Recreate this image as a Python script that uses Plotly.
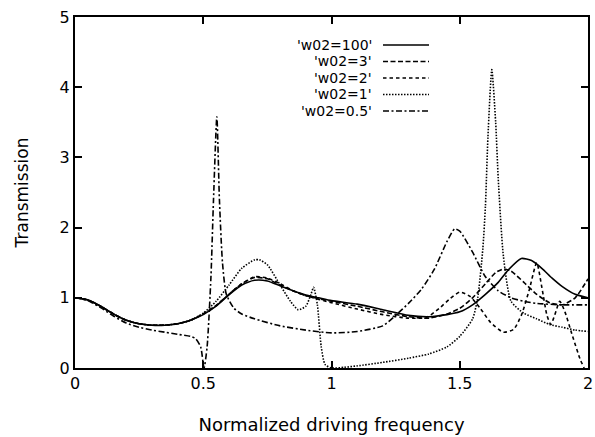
import plotly.graph_objects as go

# ---- data ----
x_w100 = [0, 0.05, 0.1, 0.15, 0.2, 0.25, 0.3, 0.35, 0.4, 0.45, 0.5, 0.55, 0.6, 0.65, 0.7, 0.75, 0.8, 0.85, 0.9, 0.95,
          1.0, 1.1, 1.2, 1.3, 1.38, 1.45, 1.5, 1.55, 1.6, 1.65, 1.69, 1.74, 1.78, 1.82, 1.86, 1.9, 1.95, 2.0]
y_w100 = [1.0, 0.97, 0.88, 0.77, 0.68, 0.63, 0.61, 0.61, 0.63, 0.68, 0.76, 0.88, 1.04, 1.18, 1.25, 1.24, 1.17, 1.10, 1.04, 1.0,
          0.96, 0.91, 0.83, 0.75, 0.73, 0.76, 0.80, 0.90, 1.05, 1.22, 1.40, 1.56, 1.53, 1.42, 1.28, 1.16, 1.05, 1.0]

x_w3 = [0, 0.05, 0.1, 0.15, 0.2, 0.25, 0.3, 0.35, 0.4, 0.45, 0.5, 0.55, 0.6, 0.65, 0.7, 0.75, 0.8, 0.85, 0.9,
        1.0, 1.1, 1.2, 1.3, 1.38, 1.45, 1.5, 1.55, 1.6, 1.64, 1.67, 1.7, 1.75, 1.8, 1.85, 1.9, 1.95, 2.0]
y_w3 = [1.0, 0.97, 0.88, 0.77, 0.68, 0.63, 0.61, 0.61, 0.63, 0.68, 0.77, 0.89, 1.05, 1.2, 1.29, 1.27, 1.18, 1.1, 1.03,
        0.95, 0.88, 0.8, 0.73, 0.71, 0.77, 0.85, 1.0, 1.2, 1.36, 1.41, 1.38, 1.22, 1.05, 0.93, 0.9, 1.0, 1.27]

x_w2 = [0, 0.05, 0.1, 0.15, 0.2, 0.25, 0.3, 0.35, 0.4, 0.45, 0.5, 0.55, 0.6, 0.65, 0.7, 0.75, 0.8, 0.85, 0.9,
        1.0, 1.1, 1.2, 1.3, 1.37, 1.42, 1.46, 1.5, 1.54, 1.58, 1.62, 1.67, 1.71, 1.74, 1.77, 1.8, 1.82, 1.84, 1.855,
        1.87, 1.89, 1.91, 1.94, 1.97, 1.985]
y_w2 = [1.0, 0.97, 0.88, 0.77, 0.68, 0.63, 0.61, 0.61, 0.63, 0.68, 0.77, 0.89, 1.05, 1.2, 1.3, 1.28, 1.2, 1.1, 1.03,
        0.93, 0.84, 0.76, 0.71, 0.72, 0.85, 0.98, 1.08, 1.02, 0.85, 0.65, 0.51, 0.55, 0.75, 1.1, 1.5, 1.15, 0.75, 0.62,
        0.75, 0.95, 0.8, 0.45, 0.12, 0.0]

x_w1 = [0, 0.05, 0.1, 0.15, 0.2, 0.25, 0.3, 0.35, 0.4, 0.45, 0.5, 0.55, 0.6, 0.65, 0.7, 0.72, 0.75, 0.8, 0.84, 0.87,
        0.9, 0.92, 0.93, 0.945, 0.96, 0.975, 1.0, 1.05, 1.1, 1.2, 1.3, 1.38, 1.45, 1.5, 1.55, 1.57, 1.59, 1.6, 1.61,
        1.625, 1.64, 1.65, 1.67, 1.7, 1.75, 1.8, 1.85, 1.9, 1.95, 2.0]
y_w1 = [1.0, 0.97, 0.88, 0.77, 0.68, 0.63, 0.61, 0.61, 0.63, 0.68, 0.78, 0.95, 1.18, 1.42, 1.54, 1.54, 1.47, 1.18, 0.95, 0.83,
        0.88, 1.05, 1.15, 0.9, 0.3, 0.05, 0.0, 0.01, 0.03, 0.08, 0.14, 0.2, 0.3, 0.45, 0.7, 1.0, 1.7, 2.3, 3.3,
        4.25, 3.5, 2.7, 1.6, 0.95, 0.78, 0.7, 0.62, 0.58, 0.54, 0.52]

x_w05 = [0, 0.05, 0.1, 0.15, 0.2, 0.25, 0.3, 0.35, 0.4, 0.45, 0.47, 0.49, 0.503, 0.515, 0.53, 0.54, 0.553, 0.563,
         0.575, 0.59, 0.62, 0.65, 0.7, 0.8, 0.9, 1.0, 1.1, 1.2, 1.25, 1.3, 1.35, 1.4, 1.45, 1.48, 1.5, 1.55, 1.6,
         1.65, 1.7, 1.75, 1.8, 1.9, 2.0]
y_w05 = [1.0, 0.96, 0.86, 0.74, 0.64, 0.58, 0.54, 0.51, 0.48, 0.45, 0.42, 0.3, 0.0, 0.3, 1.3, 2.4, 3.58, 2.4,
         1.5, 1.05, 0.85, 0.77, 0.7, 0.6, 0.54, 0.5, 0.52, 0.6, 0.75, 0.92, 1.12, 1.4, 1.8, 1.98, 1.95, 1.65, 1.3,
         1.1, 1.0, 0.95, 0.92, 0.9, 0.9]

labels = ["'w02=100'", "'w02=3'", "'w02=2'", "'w02=1'", "'w02=0.5'"]
xs = [x_w100, x_w3, x_w2, x_w1, x_w05]
ys = [y_w100, y_w3, y_w2, y_w1, y_w05]
dashes = ["solid", "5px,2.5px", "3.5px,3px", "1.5px,1.5px", "6px,2.5px,2px,2.5px"]

# ---- layout geometry (pixels) ----
W, H = 595, 437
L, R, T, B = 75, 588, 17, 368

def px2paper(px, py):
    return (px - L) / (R - L), (B - py) / (B - T)

fig = go.Figure()
for x, y, d, name in zip(xs, ys, dashes, labels):
    fig.add_trace(go.Scatter(x=x, y=y, mode="lines", name=name,
                             line=dict(color="black", width=1.6, dash=d, shape="spline", smoothing=0.6)))

font = "DejaVu Sans, Liberation Sans, sans-serif"
key_y = [45, 61.5, 78, 94.5, 111]
annotations = []
shapes = []
for name, d, ky in zip(labels, dashes, key_y):
    xp, yp = px2paper(373, ky)
    annotations.append(dict(x=xp, y=yp, xref="paper", yref="paper", text=name, showarrow=False,
                            xanchor="right", yanchor="middle", borderpad=0,
                            font=dict(family=font, size=14, color="black")))
    x0, _ = px2paper(383, ky)
    x1, _ = px2paper(429, ky)
    shapes.append(dict(type="line", xref="paper", yref="paper", x0=x0, x1=x1, y0=yp, y1=yp,
                       line=dict(color="black", width=1.6, dash=d)))

axis_common = dict(showline=True, linecolor="black", linewidth=2, mirror="ticks", ticks="inside",
                   ticklen=7, tickwidth=1.5, tickcolor="black", showgrid=False, zeroline=False,
                   tickfont=dict(family=font, size=16, color="black"))

fig.update_layout(
    width=W, height=H, margin=dict(l=L, r=W - R, t=T, b=H - B),
    paper_bgcolor="white", plot_bgcolor="white", showlegend=False,
    xaxis=dict(range=[0, 2], tickvals=[0, 0.5, 1, 1.5, 2], ticktext=["0", "0.5", "1", "1.5", "2"],
               title=dict(text="Normalized driving frequency", standoff=26,
                          font=dict(family=font, size=18, color="black")), **axis_common),
    yaxis=dict(range=[0, 5], tickvals=[0, 1, 2, 3, 4, 5], ticktext=["0", "1", "2", "3", "4", "5"],
               title=dict(text="Transmission", standoff=27,
                          font=dict(family=font, size=17, color="black")), **axis_common),
    annotations=annotations, shapes=shapes,
)
fig.update_xaxes(automargin=False)
fig.update_yaxes(automargin=False)

fig.write_html("out.html")
